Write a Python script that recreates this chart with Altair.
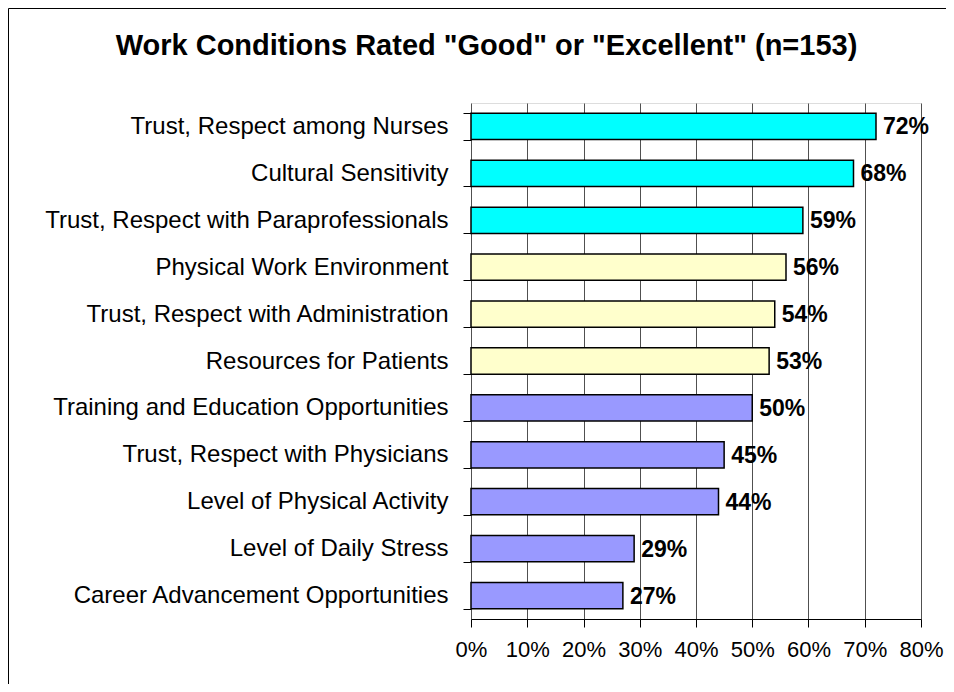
import altair as alt
import pandas as pd

categories = [
    "Trust, Respect among Nurses",
    "Cultural Sensitivity",
    "Trust, Respect with Paraprofessionals",
    "Physical Work Environment",
    "Trust, Respect with Administration",
    "Resources for Patients",
    "Training and Education Opportunities",
    "Trust, Respect with Physicians",
    "Level of Physical Activity",
    "Level of Daily Stress",
    "Career Advancement Opportunities",
]
values = [72, 68, 59, 56, 54, 53, 50, 45, 44, 29, 27]
groups = ["high", "high", "high", "mid", "mid", "mid", "low", "low", "low", "low", "low"]
group_names = ["high", "mid", "low"]
group_colors = ["#00FFFF", "#FFFFCC", "#9999FF"]
x_ticks = [0, 0.1, 0.2, 0.3, 0.4, 0.5, 0.6, 0.7, 0.8]
title_text = ['Work Conditions Rated "Good" or "Excellent" (n=153)']

FONT = "Liberation Sans"

df = pd.DataFrame({
    "category": categories,
    "value": [v / 100 for v in values],
    "group": groups,
})

yscale = alt.Scale(paddingInner=0.44, paddingOuter=0.22)

y_enc = alt.Y(
    "category:N", sort=None, scale=yscale,
    axis=alt.Axis(
        title=None, labelFont=FONT, labelFontSize=24, labelColor="black",
        labelPadding=15, tickBand="extent", tickColor="black", tickSize=8,
        domain=False, grid=False, labelLimit=600,
    ),
)
x_enc = alt.X(
    "value:Q", scale=alt.Scale(domain=[0, 0.8], nice=False),
    axis=alt.Axis(
        title=None, values=x_ticks, format=".0%", grid=True, gridColor="#505050",
        gridOpacity=1, tickColor="black", tickSize=8, domainColor="black",
        labelFont=FONT, labelFontSize=22, labelColor="black", labelPadding=12,
        labelFlush=False,
    ),
)

bars = alt.Chart(df).mark_bar(stroke="black", strokeWidth=1.5).encode(
    x=x_enc,
    y=y_enc,
    color=alt.Color("group:N", scale=alt.Scale(domain=group_names, range=group_colors), legend=None),
)

labels = alt.Chart(df).mark_text(
    align="left", baseline="middle", dx=7, dy=1, font=FONT, fontWeight="bold", fontSize=23, color="black"
).encode(
    x="value:Q",
    y=alt.Y("category:N", sort=None),
    text=alt.Text("value:Q", format=".0%"),
)

title = alt.Chart(pd.DataFrame({"t": title_text})).mark_text(
    align="center", baseline="alphabetic", font=FONT, fontWeight="bold", fontSize=29, color="black"
).encode(
    x=alt.value(15.5), y=alt.value(-48), text="t:N"
)

dummy = pd.DataFrame({"a": [0]})
frame_left = alt.Chart(dummy).mark_rule(color="black", strokeWidth=1).encode(
    x=alt.value(-462.5), y=alt.value(-94.5), y2=alt.value(700)
)
frame_top = alt.Chart(dummy).mark_rule(color="black", strokeWidth=1).encode(
    x=alt.value(-462.5), x2=alt.value(600), y=alt.value(-94.5)
)

chart = alt.layer(bars, labels, title, frame_left, frame_top).properties(
    width=450,
    height=516,
    autosize=alt.AutoSizeParams(type="none"),
    padding={"left": 463, "top": 95, "right": 25, "bottom": 65},
).configure_view(
    fill="#C0C0C0", stroke="#808080", strokeWidth=1
).configure(background="white")

chart.save("out.html", embed_options={"renderer": "svg", "actions": False})
